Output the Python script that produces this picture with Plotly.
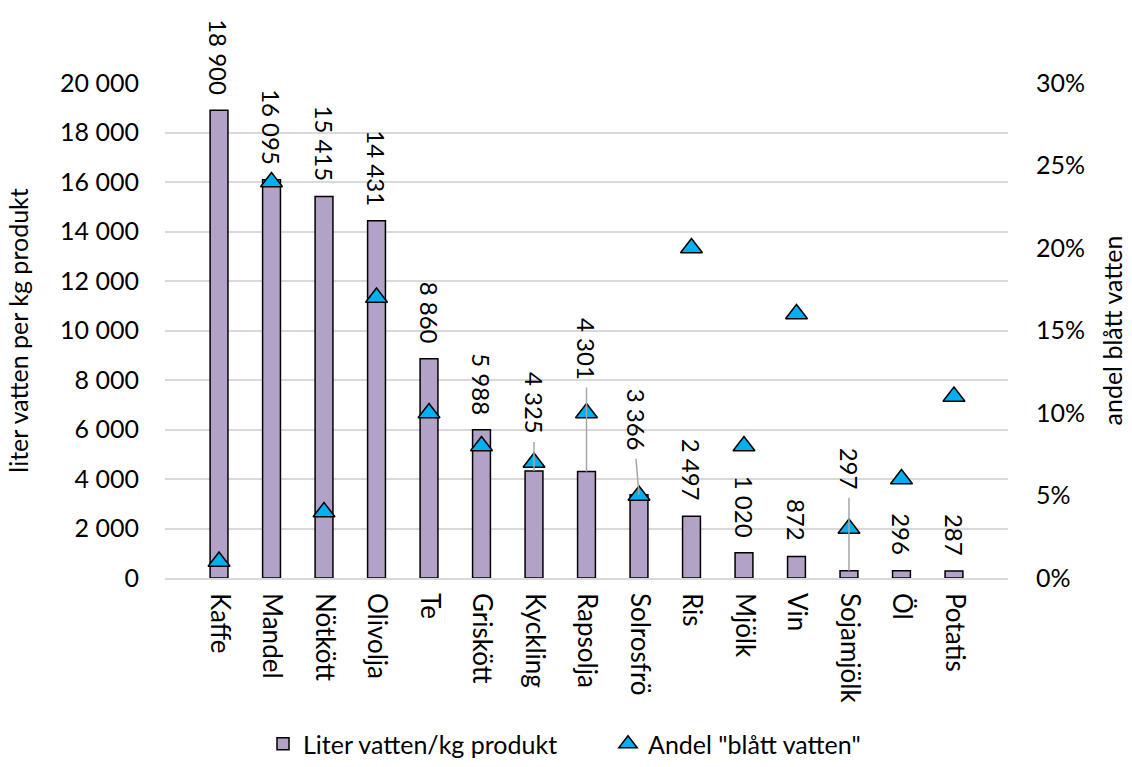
import plotly.graph_objects as go

# Water footprint per product and share of "blue water"
products = ["Kaffe", "Mandel", "Nötkött", "Olivolja", "Te", "Griskött", "Kyckling",
            "Rapsolja", "Solrosfrö", "Ris", "Mjölk", "Vin", "Sojamjölk", "Öl", "Potatis"]
liters_per_kg = [18900, 16095, 15415, 14431, 8860, 5988, 4325, 4301, 3366, 2497,
                 1020, 872, 297, 296, 287]
blue_share = [0.01, 0.24, 0.04, 0.17, 0.10, 0.08, 0.07, 0.10, 0.05, 0.20,
              0.08, 0.16, 0.03, 0.06, 0.11]

FONT = "Lato"
FS = 25
BAR_COLOR = "#b3a2c7"
TRI_COLOR = "#00b0f0"
GRID = "#d9d9d9"
LEADER = "#a6a6a6"

# Extra lift (px) for labels that are moved off the bar, with a leader line
label_lift = {"Kyckling": 22, "Rapsolja": 77, "Solrosfrö": 29, "Sojamjölk": 66}
label_dx = {"Solrosfrö": -3}
BASE_GAP = 13


def fmt(v):
    return f"{v:,}".replace(",", " ")


fig = go.Figure()
fig.add_trace(go.Bar(
    x=products, y=liters_per_kg, name="Liter vatten/kg produkt",
    width=0.34, legend="legend",
    marker=dict(color=BAR_COLOR, line=dict(color="black", width=1.5)),
    yaxis="y",
))
fig.add_trace(go.Scatter(
    x=products, y=blue_share, name='Andel "blått vatten"',
    mode="markers", yaxis="y2", legend="legend2",
    marker=dict(symbol="triangle-up", size=19, color=TRI_COLOR,
                line=dict(color="black", width=1.5)),
))

annotations = []
shapes = []
for p, v in zip(products, liters_per_kg):
    lift = label_lift.get(p, 0)
    dx = label_dx.get(p, 0)
    annotations.append(dict(
        x=p, y=v, xref="x", yref="y", text=fmt(v), showarrow=False,
        textangle=90, xanchor="center", yanchor="bottom",
        yshift=BASE_GAP + lift, xshift=dx,
        font=dict(family=FONT, size=24, color="black"),
    ))
    if lift:
        shapes.append(dict(
            type="line", xref="x", yref="y",
            xsizemode="pixel", ysizemode="pixel",
            xanchor=p, yanchor=v,
            x0=0, x1=dx, y0=0, y1=BASE_GAP + lift - 6,
            line=dict(color=LEADER, width=1.5), layer="above",
        ))

legend_style = dict(orientation="h", xref="container", yref="container",
                    xanchor="left", y=0.0, yanchor="bottom",
                    bgcolor="rgba(0,0,0,0)",
                    font=dict(family=FONT, size=25, color="black"))

fig.update_layout(
    width=1132, height=767,
    margin=dict(l=165, r=124, t=83, b=189),
    paper_bgcolor="white", plot_bgcolor="white",
    font=dict(family=FONT, size=FS, color="black"),
    separators=", ",
    showlegend=True,
    legend=dict(x=263 / 1132, **legend_style),
    legend2=dict(x=608 / 1132, **legend_style),
    xaxis=dict(
        type="category", tickangle=90, showgrid=False, ticks="",
        showline=True, linecolor=GRID, linewidth=1.5, automargin=False,
        tickfont=dict(family=FONT, size=26, color="black"),
        ticklabelstandoff=8,
    ),
    yaxis=dict(
        range=[0, 20000], dtick=2000, tickformat=",d", automargin=False,
        showgrid=True, gridcolor=GRID, gridwidth=1.5,
        zeroline=False, showline=False, ticks="",
        ticklabelstandoff=25,
        title=dict(text="liter vatten per kg produkt", standoff=24,
                   font=dict(family=FONT, size=FS, color="black")),
        tickfont=dict(family=FONT, size=FS, color="black"),
    ),
    yaxis2=dict(
        range=[0, 0.30], dtick=0.05, tickformat=".0%", automargin=False,
        overlaying="y", side="right", showgrid=False, zeroline=False,
        ticks="", ticklabelstandoff=27,
        title=dict(text="andel blått vatten", standoff=20,
                   font=dict(family=FONT, size=FS, color="black")),
        tickfont=dict(family=FONT, size=FS, color="black"),
    ),
    annotations=annotations,
    shapes=shapes,
    bargap=0.2,
)

fig.write_html("out.html")
